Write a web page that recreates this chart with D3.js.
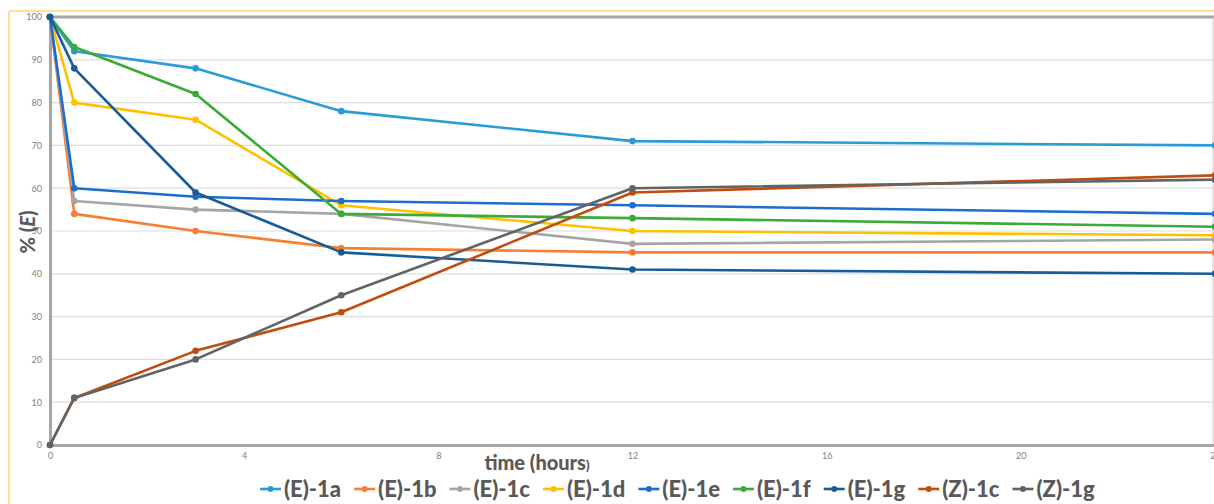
<!DOCTYPE html>
<html>
<head>
<meta charset="utf-8">
<script src="https://cdn.jsdelivr.net/npm/d3@7"></script>
<style>
  html, body { margin: 0; padding: 0; background: #fff; }
  svg { display: block; }
</style>
</head>
<body>
<svg id="chart" width="1214" height="504"></svg>
<script>
// Sampling times (hours)
const times = [0, 0.5, 3, 6, 12, 24];

// Series: share of E isomer (%) at each sampling time
const seriesNames = ["(E)-1a", "(E)-1b", "(E)-1c", "(E)-1d", "(E)-1e", "(E)-1f", "(E)-1g", "(Z)-1c", "(Z)-1g"];
const E1a = [100, 92, 88, 78, 71, 70];
const E1b = [100, 54, 50, 46, 45, 45];
const E1c = [100, 57, 55, 54, 47, 48];
const E1d = [100, 80, 76, 56, 50, 49];
const E1e = [100, 60, 58, 57, 56, 54];
const E1f = [100, 93, 82, 54, 53, 51];
const E1g = [100, 88, 59, 45, 41, 40];
const Z1c = [0, 11, 22, 31, 59, 63];
const Z1g = [0, 11, 20, 35, 60, 62];
const seriesValues = [E1a, E1b, E1c, E1d, E1e, E1f, E1g, Z1c, Z1g];
const seriesColors = ["#2b9bd8", "#f77f33", "#a5a5a5", "#ffc000", "#1d6ecc", "#3aab38", "#175c96", "#c04d0c", "#636363"];

// Axis ticks
const xTicks = [0, 4, 8, 12, 16, 20, 24];
const yTicks = [0, 10, 20, 30, 40, 50, 60, 70, 80, 90, 100];

const svg = d3.select("#chart");
const plotLeft = 50, plotRight = 1215, plotTop = 17, plotBottom = 445;
const font = "Lato, 'Open Sans', sans-serif";

const x = d3.scaleLinear().domain([0, 24]).range([plotLeft, plotRight]);
const y = d3.scaleLinear().domain([0, 100]).range([plotBottom, plotTop]);

// Outer frame (top and left edges visible)
svg.append("line").attr("x1", 9).attr("x2", 1214).attr("y1", 11).attr("y2", 11)
  .attr("stroke", "#ffd966").attr("stroke-width", 1.5);
svg.append("line").attr("x1", 9).attr("x2", 9).attr("y1", 11).attr("y2", 504)
  .attr("stroke", "#ffd966").attr("stroke-width", 1.5);

// Horizontal gridlines
svg.append("g").selectAll("line").data(yTicks.filter(d => d > 0 && d < 100)).join("line")
  .attr("x1", plotLeft).attr("x2", 1213)
  .attr("y1", d => y(d)).attr("y2", d => y(d))
  .attr("stroke", "#dedede").attr("stroke-width", 1.2);

// Plot borders
svg.append("line").attr("x1", plotLeft).attr("x2", 1214).attr("y1", y(100)).attr("y2", y(100))
  .attr("stroke", "#a6a6a6").attr("stroke-width", 3);
svg.append("line").attr("x1", 1213).attr("x2", 1213).attr("y1", y(100)).attr("y2", y(0))
  .attr("stroke", "#c8c8c8").attr("stroke-width", 1);

// Y axis
const yAxis = svg.append("g").attr("transform", `translate(${plotLeft},0)`)
  .call(d3.axisLeft(y).tickValues(yTicks).tickSize(0).tickPadding(8));
yAxis.select(".domain").attr("stroke", "#a6a6a6").attr("stroke-width", 3);
yAxis.selectAll("text").attr("fill", "#7f7f7f").style("font-family", font).style("font-size", "9px");

// X axis
const xAxis = svg.append("g").attr("transform", `translate(0,${plotBottom})`)
  .call(d3.axisBottom(x).tickValues(xTicks).tickSize(0).tickPadding(8));
xAxis.select(".domain").attr("stroke", "#a6a6a6").attr("stroke-width", 3);
xAxis.selectAll("text").attr("fill", "#7f7f7f").style("font-family", font).style("font-size", "9px");

// Axis titles
const xt = svg.append("text").attr("x", 537).attr("y", 470).attr("text-anchor", "middle")
  .attr("fill", "#595959").style("font-family", font)
  .style("font-weight", "900").style("font-size", "20px");
xt.append("tspan").text("time (hours");
xt.append("tspan").style("font-size", "13px").text(")");

const yt = svg.append("text").attr("transform", "translate(35,232) rotate(-90)").attr("text-anchor", "middle")
  .attr("fill", "#595959").style("font-family", font)
  .style("font-weight", "900").style("font-size", "20px");
yt.append("tspan").text("% (");
yt.append("tspan").style("font-style", "italic").text("E");
yt.append("tspan").text(")");

// Series lines and markers
const line = d3.line().x((d, i) => x(times[i])).y(d => y(d));
const g = svg.append("g");
seriesValues.forEach((vals, k) => {
  g.append("path").datum(vals).attr("d", line)
    .attr("fill", "none").attr("stroke", seriesColors[k]).attr("stroke-width", 2.6)
    .attr("stroke-linejoin", "round");
  g.append("g").selectAll("circle").data(vals).join("circle")
    .attr("cx", (d, i) => x(times[i])).attr("cy", d => y(d)).attr("r", 3.3)
    .attr("fill", seriesColors[k]);
});

// Legend
const legend = svg.append("g");
let lx = 260;
const ly = 489;
seriesNames.forEach((name, k) => {
  const item = legend.append("g");
  item.append("line").attr("x1", lx).attr("x2", lx + 21).attr("y1", ly).attr("y2", ly)
    .attr("stroke", seriesColors[k]).attr("stroke-width", 2.6);
  item.append("circle").attr("cx", lx + 10.5).attr("cy", ly).attr("r", 3).attr("fill", seriesColors[k]);
  const t = item.append("text").attr("x", lx + 24).attr("y", ly + 8)
    .attr("fill", "#595959").style("font-family", font)
    .style("font-weight", "900").style("font-size", "22px").text(name);
  lx += 24 + t.node().getComputedTextLength() + 13;
});
</script>
</body>
</html>
